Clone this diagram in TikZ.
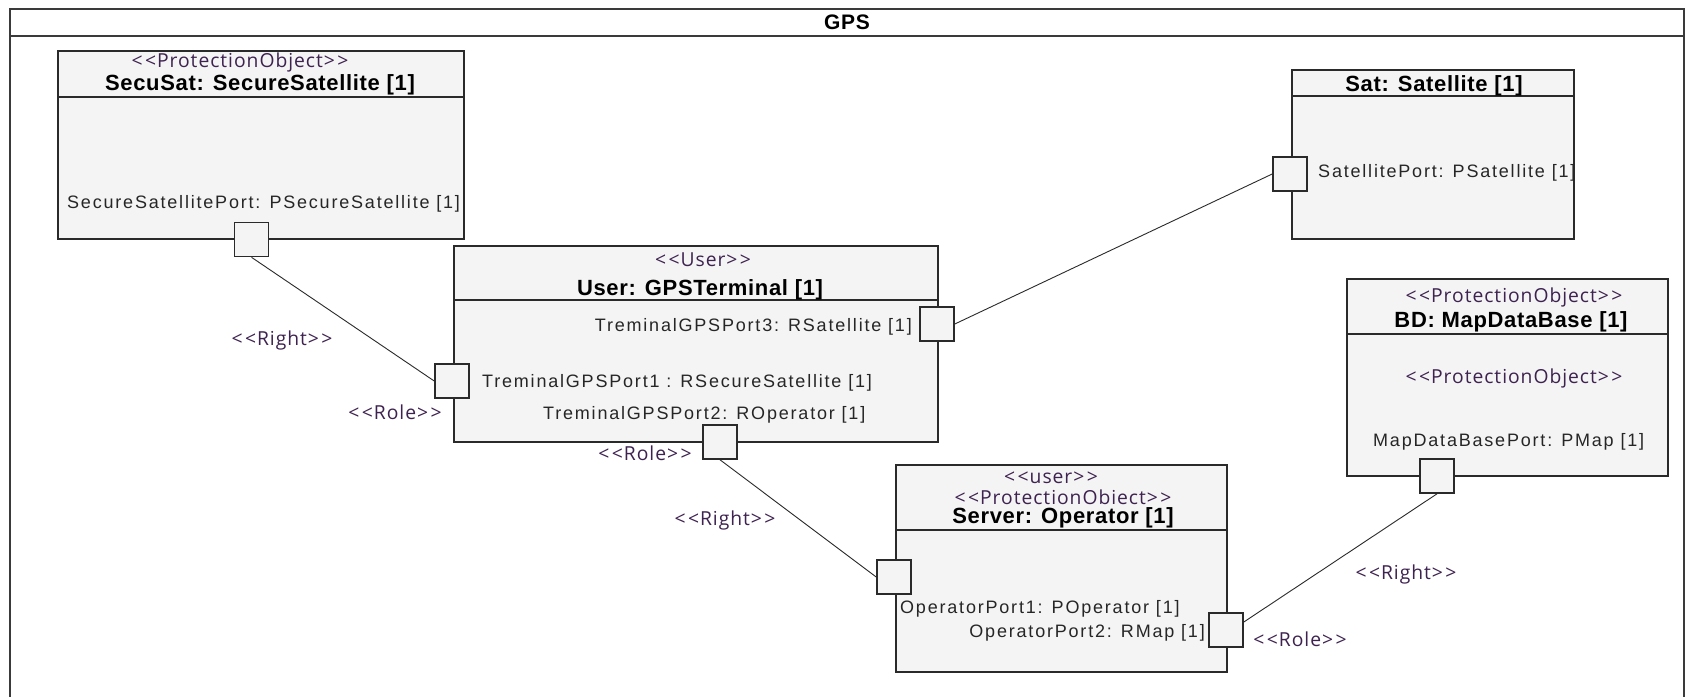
\documentclass[tikz,border=0pt]{standalone}
\usepackage{fontspec}
\setmainfont{Liberation Sans}
\newfontfamily\lblfont[LetterSpace=10]{Liberation Sans}
\newfontfamily\stfont[LetterSpace=5]{Open Sans}
\newfontfamily\nmfont[LetterSpace=3]{Liberation Sans}
\newcommand{\stopen}{<\kern2.5pt<}
\newcommand{\stclose}{>\kern2.5pt>}
\definecolor{framegray}{HTML}{3A3A3A}
\definecolor{linegray}{HTML}{2A2A2A}
\definecolor{boxfill}{HTML}{F4F4F4}
\definecolor{labelgray}{HTML}{262626}
\definecolor{stcolor}{HTML}{3E2250}
\begin{document}
\begin{tikzpicture}[x=1pt,y=-1pt,
  frame/.style={draw=framegray, line width=2pt},
  part/.style={draw=linegray, fill=boxfill, line width=1.6pt, inner sep=0pt, anchor=north west},
  divider/.style={draw=linegray, line width=1.6pt},
  port/.style={draw=linegray, fill=boxfill, line width=1.6pt, inner sep=0pt, minimum size=34pt},
  conn/.style={draw=linegray, line width=0.9pt},
  plabel/.style={inner sep=0pt, text=labelgray, font=\lblfont\fontsize{18}{20}\selectfont},
  stlabel/.style={inner sep=0pt, text=stcolor, font=\stfont\fontsize{19.3}{21}\selectfont},
  nlabel/.style={inner sep=0pt, text=black, font=\nmfont\fontsize{22}{24}\selectfont\bfseries}]
\useasboundingbox (0,0) rectangle (1685,696);
\fill[white] (0,0) rectangle (1685,696);

% outer frame with title band
\draw[frame] (10,697) -- (10,9) -- (1684,9) -- (1684,697);
\draw[frame] (10,36) -- (1684,36);
\node[inner sep=0pt, anchor=base, font=\nmfont\fontsize{21}{23}\selectfont\bfseries] (gps) at (847,29) {GPS};

% parts
\node[part, minimum width=406pt, minimum height=188pt] (secusat) at (57,50) {};
\node[part, minimum width=484pt, minimum height=196pt] (user) at (453,245) {};
\node[part, minimum width=331pt, minimum height=207pt] (server) at (895,464) {};
\node[part, minimum width=282pt, minimum height=169pt] (sat) at (1291,69) {};
\node[part, minimum width=321pt, minimum height=197pt] (bd) at (1346,278) {};

% header dividers
\draw[divider] (secusat.west |- 0,97) -- (secusat.east |- 0,97);
\draw[divider] (user.west |- 0,300) -- (user.east |- 0,300);
\draw[divider] (server.west |- 0,530) -- (server.east |- 0,530);
\draw[divider] (sat.west |- 0,96) -- (sat.east |- 0,96);
\draw[divider] (bd.west |- 0,334) -- (bd.east |- 0,334);

% headers
\node[stlabel, anchor=base] (secusatst) at (240,67) {\stopen ProtectionObject\stclose};
\node[nlabel, anchor=base] (secusatnm) at (260,90) {SecuSat: SecureSatellite [1]};
\node[stlabel, anchor=base] (userst) at (703,266) {\stopen User\stclose};
\node[nlabel, anchor=base] (usernm) at (700,295) {User: GPSTerminal [1]};
\node[stlabel, anchor=base] (serverst) at (1051,483) {\stopen user\stclose};
\node[stlabel, anchor=base] (serverpo) at (1063,504) {\stopen ProtectionObiect\stclose};
\node[nlabel, anchor=base] (servernm) at (1063,523) {Server: Operator [1]};
\node[nlabel, anchor=base] (satnm) at (1434,91) {Sat: Satellite [1]};
\node[stlabel, anchor=base] (bdst) at (1514,302) {\stopen ProtectionObject\stclose};
\node[nlabel, anchor=base] (bdnm) at (1511,327) {BD: MapDataBase [1]};
\node[stlabel, anchor=base] (bdst2) at (1514,383) {\stopen ProtectionObject\stclose};

% ports
\node[port] (ssp) at (251.5,239.5) {};
\node[port] (up3) at (937,324) {};
\node[port] (up1) at (452,381) {};
\node[port] (up2) at (720,442) {};
\node[port] (sp1) at (894,577) {};
\node[port] (sp2) at (1226,630) {};
\node[port] (satp) at (1290,174) {};
\node[port] (bdp) at (1437,476) {};

% port labels
\node[plabel, anchor=base west] (sspl) at (67,208) {SecureSatellitePort: PSecureSatellite [1]};
\node[plabel, anchor=base east] (up3l) at (912,331) {TreminalGPSPort3: RSatellite [1]};
\node[plabel, anchor=base west] (up1l) at (482,387) {TreminalGPSPort1 : RSecureSatellite [1]};
\node[plabel, anchor=base west] (up2l) at (543,419) {TreminalGPSPort2: ROperator [1]};
\node[plabel, anchor=base west] (sp1l) at (900,613) {OperatorPort1: POperator [1]};
\node[plabel, anchor=base east] (sp2l) at (1205,637) {OperatorPort2: RMap [1]};
\node[plabel, anchor=base west] (satpl) at (1318,177) {SatellitePort: PSatellite [1]};
\node[plabel, anchor=base west] (bdpl) at (1373,446) {MapDataBasePort: PMap [1]};

% connectors
\draw[conn] (ssp.south) -- (up1.west);
\draw[conn] (up2.south) -- (sp1.west);
\draw[conn] (up3.east) -- (satp.west);
\draw[conn] ([yshift=8pt]sp2.east) -- (bdp.south);

% connector end labels
\node[stlabel, anchor=base] (right1) at (282,345) {\stopen Right\stclose};
\node[stlabel, anchor=base] (role1) at (395,419) {\stopen Role\stclose};
\node[stlabel, anchor=base] (role2) at (645,460) {\stopen Role\stclose};
\node[stlabel, anchor=base] (right2) at (725,525) {\stopen Right\stclose};
\node[stlabel, anchor=base] (right3) at (1406,579) {\stopen Right\stclose};
\node[stlabel, anchor=base] (role3) at (1300,646) {\stopen Role\stclose};
\end{tikzpicture}
\end{document}
